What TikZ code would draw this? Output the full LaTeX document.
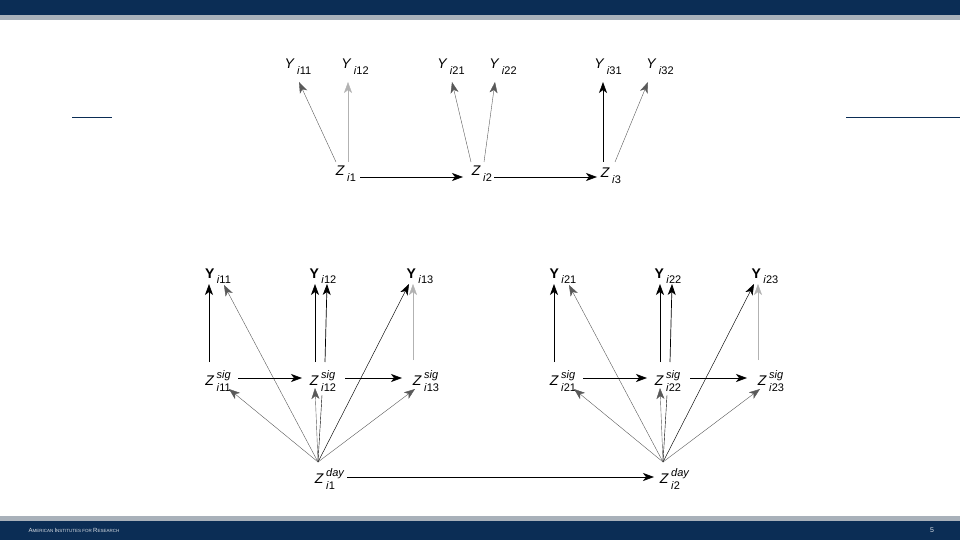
\documentclass[tikz,border=0pt]{standalone}
\usepackage{fontspec}
\setmainfont{Liberation Sans}
\usetikzlibrary{arrows.meta}
\definecolor{navy}{HTML}{0B2D55}
\definecolor{strip}{HTML}{A9B1BA}
\newcommand{\sm}{\fontsize{11}{11}\selectfont}
\newcommand{\lb}[3]{\textit{#1}\,\rlap{\raisebox{7pt}{\sm\textit{#3}}}\raisebox{-6pt}{\sm\textit{i}#2}}
\newcommand{\lby}[2]{\textbf{Y}\,\raisebox{-5pt}{\sm\textit{i}#2}}
\newcommand{\lyt}[1]{\textit{Y}\,\raisebox{-6pt}{\sm\textit{i}#1}}
\begin{document}
\begin{tikzpicture}[x=1pt,y=-1pt,
  lab/.style={inner sep=0pt,font=\fontsize{14}{14}\selectfont},
  arr/.style={-{Stealth[length=11pt,width=8pt,inset=3pt]},line width=0.7pt},
  thin arr/.style={arr,line width=0.4pt,gray!70!black}]
\useasboundingbox (0,0) rectangle (960,540);
\fill[navy] (0,0) rectangle (960,15);
\fill[strip] (0,15) rectangle (960,20);
\fill[strip] (0,516) rectangle (960,521);
\fill[navy] (0,521) rectangle (960,540);
\node[anchor=west,text=white!85!navy,font=\fontsize{6}{6}\selectfont] (foot) at (25,530) {A\fontsize{4.5}{5}\selectfont MERICAN \fontsize{6}{6}\selectfont I\fontsize{4.5}{5}\selectfont NSTITUTES FOR \fontsize{6}{6}\selectfont R\fontsize{4.5}{5}\selectfont ESEARCH};
\node[text=white!85!navy,font=\fontsize{7}{7}\selectfont] (pg) at (932,530) {5};
\draw[navy,line width=0.6pt] (72,117) -- (112,117) (846,117) -- (960,117);
% top diagram
\node[lab] (y11) at (298,67) {\lyt{11}};
\node[lab] (y12) at (355,67) {\lyt{12}};
\node[lab] (y21) at (451,67) {\lyt{21}};
\node[lab] (y22) at (503,67) {\lyt{22}};
\node[lab] (y31) at (608,67) {\lyt{31}};
\node[lab] (y32) at (660,67) {\lyt{32}};
\node[lab] (z1) at (346,174) {\textit{Z}\,\raisebox{-6pt}{\sm\textit{i}1}};
\node[lab] (z2) at (482,174) {\textit{Z}\,\raisebox{-6pt}{\sm\textit{i}2}};
\node[lab] (z3) at (611,176) {\textit{Z}\,\raisebox{-6pt}{\sm\textit{i}3}};
\draw[thin arr] (336,162) -- (299,82);
\draw[thin arr,gray!60] (348,162) -- (348,82);
\draw[thin arr] (471,162) -- (452,82);
\draw[thin arr] (484,162) -- (495,82);
\draw[arr] (603,162) -- (603,82);
\draw[thin arr] (615,162) -- (648,82);
\draw[arr] (360,177) -- (463,177);
\draw[arr] (494,177) -- (597,177);
% bottom diagram
\foreach \g/\dx in {1/0,2/345}{
  \foreach \k/\yx/\zx in {1/218/218,2/323/323,3/420/426}{
    \node[lab] (Y\g\k) at (\yx+\dx,276) {\lby{\g}{\g\k}};
    \node[lab] (S\g\k) at (\zx+\dx,381) {\lb{Z}{\g\k}{sig}\hspace{10pt}};
  }
  \node[lab] (D\g) at (325+\dx,479) {\lb{Z}{\g}{day}\hspace{15pt}};
  \coordinate (T\g) at (318+\dx,462);
  \draw[arr] (209+\dx,362) -- (209+\dx,284);
  \draw[arr] (315+\dx,362) -- (315+\dx,284);
  \draw[arr] (325+\dx,362) -- (327+\dx,284);
  \draw[thin arr,gray!60] (413+\dx,360) -- (413+\dx,284);
  \draw[thin arr] (T\g) -- (224+\dx,285);
  \draw[arr,line width=0.45pt] (T\g) -- (409+\dx,284);
  \draw[thin arr] (T\g) -- (229+\dx,389);
  \draw[thin arr] (T\g) -- (415+\dx,389);
  \draw[thin arr] (T\g) -- (315+\dx,388);
  \draw[line width=0.4pt] (T\g) -- (322+\dx,395);
  \draw[arr] (238+\dx,378) -- (302+\dx,378);
  \draw[arr] (345+\dx,378) -- (402+\dx,378);
}
\draw[arr] (347,477) -- (654,477);
\end{tikzpicture}
\end{document}
